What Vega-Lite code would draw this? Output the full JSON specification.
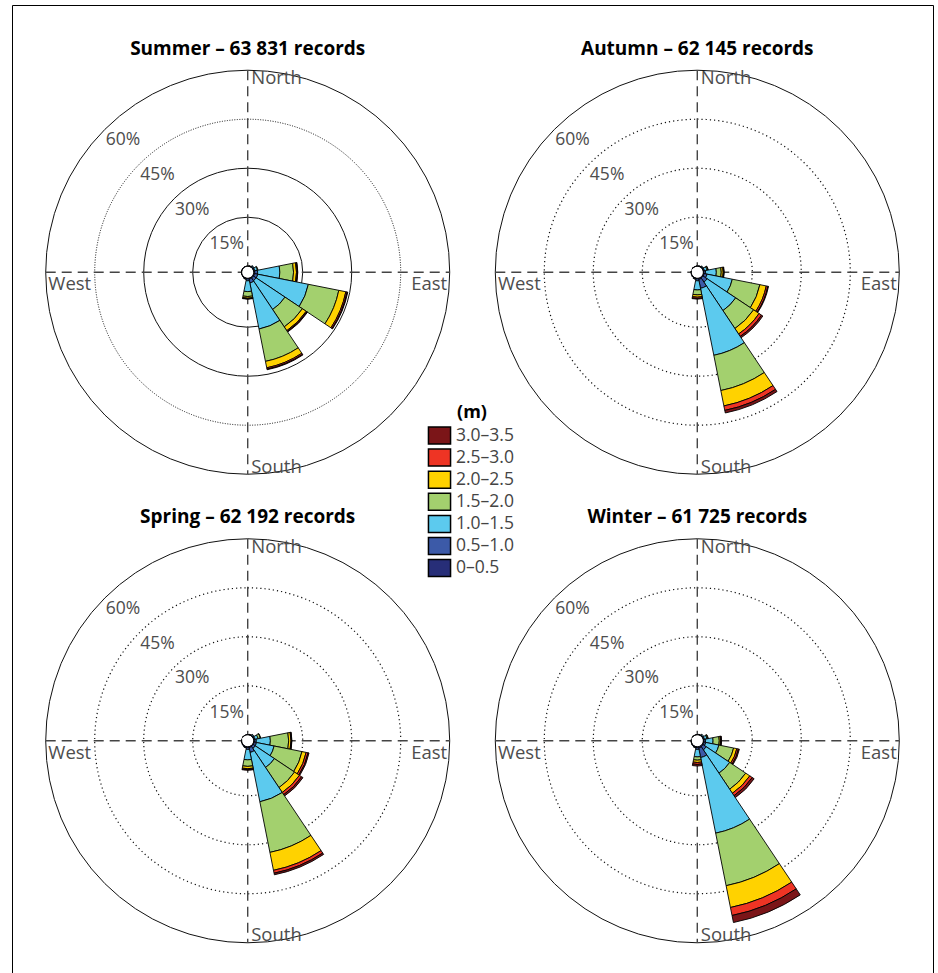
{
  "$schema": "https://vega.github.io/schema/vega-lite/v6.json",
  "width": 921,
  "height": 1003,
  "autosize": {"type": "none"},
  "padding": {"left": 12, "top": 5, "right": 5, "bottom": 0},
  "background": "white",
  "config": {
    "view": {"stroke": "#000", "strokeWidth": 1},
    "font": "Open Sans"
  },
  "datasets": {
    "panels": [
      {"season": "Summer", "title": "Summer – 63 831 records", "col": 1, "row": 1},
      {"season": "Autumn", "title": "Autumn – 62 145 records", "col": 2, "row": 1},
      {"season": "Spring", "title": "Spring – 62 192 records", "col": 1, "row": 2},
      {"season": "Winter", "title": "Winter – 61 725 records", "col": 2, "row": 2}
    ],
    "classes": [
      {"hs": "0–0.5", "k": 0},
      {"hs": "0.5–1.0", "k": 1},
      {"hs": "1.0–1.5", "k": 2},
      {"hs": "1.5–2.0", "k": 3},
      {"hs": "2.0–2.5", "k": 4},
      {"hs": "2.5–3.0", "k": 5},
      {"hs": "3.0–3.5", "k": 6}
    ],
    "rings": [
      {"season": "Summer", "ring": 15}, {"season": "Summer", "ring": 30}, {"season": "Summer", "ring": 45}, {"season": "Summer", "ring": 60},
      {"season": "Autumn", "ring": 15}, {"season": "Autumn", "ring": 30}, {"season": "Autumn", "ring": 45}, {"season": "Autumn", "ring": 60},
      {"season": "Spring", "ring": 15}, {"season": "Spring", "ring": 30}, {"season": "Spring", "ring": 45}, {"season": "Spring", "ring": 60},
      {"season": "Winter", "ring": 15}, {"season": "Winter", "ring": 30}, {"season": "Winter", "ring": 45}, {"season": "Winter", "ring": 60}
    ],
    "segs": [
      {"season": "Summer", "dir": "N", "hs": "0–0.5", "pct": 0.05},
      {"season": "Summer", "dir": "NNE", "hs": "0–0.5", "pct": 0.1},
      {"season": "Summer", "dir": "NNE", "hs": "0.5–1.0", "pct": 0.1},
      {"season": "Summer", "dir": "NE", "hs": "0–0.5", "pct": 0.1},
      {"season": "Summer", "dir": "NE", "hs": "0.5–1.0", "pct": 0.3},
      {"season": "Summer", "dir": "NE", "hs": "1.0–1.5", "pct": 0.2},
      {"season": "Summer", "dir": "ENE", "hs": "0–0.5", "pct": 0.1},
      {"season": "Summer", "dir": "ENE", "hs": "0.5–1.0", "pct": 0.3},
      {"season": "Summer", "dir": "ENE", "hs": "1.0–1.5", "pct": 0.8},
      {"season": "Summer", "dir": "ENE", "hs": "1.5–2.0", "pct": 0.2},
      {"season": "Summer", "dir": "E", "hs": "0–0.5", "pct": 0.3},
      {"season": "Summer", "dir": "E", "hs": "0.5–1.0", "pct": 0.9},
      {"season": "Summer", "dir": "E", "hs": "1.0–1.5", "pct": 6.8},
      {"season": "Summer", "dir": "E", "hs": "1.5–2.0", "pct": 4.2},
      {"season": "Summer", "dir": "E", "hs": "2.0–2.5", "pct": 0.9},
      {"season": "Summer", "dir": "E", "hs": "2.5–3.0", "pct": 0.3},
      {"season": "Summer", "dir": "E", "hs": "3.0–3.5", "pct": 0.1},
      {"season": "Summer", "dir": "ESE", "hs": "0–0.5", "pct": 0.3},
      {"season": "Summer", "dir": "ESE", "hs": "0.5–1.0", "pct": 1.0},
      {"season": "Summer", "dir": "ESE", "hs": "1.0–1.5", "pct": 15.8},
      {"season": "Summer", "dir": "ESE", "hs": "1.5–2.0", "pct": 9.5},
      {"season": "Summer", "dir": "ESE", "hs": "2.0–2.5", "pct": 2.2},
      {"season": "Summer", "dir": "ESE", "hs": "2.5–3.0", "pct": 0.4},
      {"season": "Summer", "dir": "ESE", "hs": "3.0–3.5", "pct": 0.2},
      {"season": "Summer", "dir": "SE", "hs": "0–0.5", "pct": 0.3},
      {"season": "Summer", "dir": "SE", "hs": "0.5–1.0", "pct": 1.0},
      {"season": "Summer", "dir": "SE", "hs": "1.0–1.5", "pct": 10.6},
      {"season": "Summer", "dir": "SE", "hs": "1.5–2.0", "pct": 6.4},
      {"season": "Summer", "dir": "SE", "hs": "2.0–2.5", "pct": 1.4},
      {"season": "Summer", "dir": "SE", "hs": "2.5–3.0", "pct": 0.3},
      {"season": "Summer", "dir": "SE", "hs": "3.0–3.5", "pct": 0.2},
      {"season": "Summer", "dir": "SSE", "hs": "0–0.5", "pct": 0.3},
      {"season": "Summer", "dir": "SSE", "hs": "0.5–1.0", "pct": 1.2},
      {"season": "Summer", "dir": "SSE", "hs": "1.0–1.5", "pct": 14.4},
      {"season": "Summer", "dir": "SSE", "hs": "1.5–2.0", "pct": 10.1},
      {"season": "Summer", "dir": "SSE", "hs": "2.0–2.5", "pct": 2.0},
      {"season": "Summer", "dir": "SSE", "hs": "2.5–3.0", "pct": 0.4},
      {"season": "Summer", "dir": "SSE", "hs": "3.0–3.5", "pct": 0.2},
      {"season": "Summer", "dir": "S", "hs": "0–0.5", "pct": 0.2},
      {"season": "Summer", "dir": "S", "hs": "0.5–1.0", "pct": 0.6},
      {"season": "Summer", "dir": "S", "hs": "1.0–1.5", "pct": 3.3},
      {"season": "Summer", "dir": "S", "hs": "1.5–2.0", "pct": 1.5},
      {"season": "Summer", "dir": "S", "hs": "2.0–2.5", "pct": 0.5},
      {"season": "Summer", "dir": "S", "hs": "2.5–3.0", "pct": 0.2},
      {"season": "Summer", "dir": "S", "hs": "3.0–3.5", "pct": 0.1},
      {"season": "Summer", "dir": "SSW", "hs": "0–0.5", "pct": 0.1},
      {"season": "Summer", "dir": "SSW", "hs": "0.5–1.0", "pct": 0.2},
      {"season": "Summer", "dir": "SSW", "hs": "1.0–1.5", "pct": 0.1},
      {"season": "Summer", "dir": "SW", "hs": "0–0.5", "pct": 0.1},
      {"season": "Summer", "dir": "SW", "hs": "0.5–1.0", "pct": 0.1},
      {"season": "Summer", "dir": "WSW", "hs": "0–0.5", "pct": 0.1},
      {"season": "Summer", "dir": "W", "hs": "0–0.5", "pct": 0.1},
      {"season": "Summer", "dir": "WNW", "hs": "0–0.5", "pct": 0.05},
      {"season": "Summer", "dir": "NW", "hs": "0–0.5", "pct": 0.05},
      {"season": "Summer", "dir": "NNW", "hs": "0–0.5", "pct": 0.05},

      {"season": "Autumn", "dir": "N", "hs": "0–0.5", "pct": 0.05},
      {"season": "Autumn", "dir": "NNE", "hs": "0–0.5", "pct": 0.1},
      {"season": "Autumn", "dir": "NNE", "hs": "0.5–1.0", "pct": 0.1},
      {"season": "Autumn", "dir": "NE", "hs": "0–0.5", "pct": 0.1},
      {"season": "Autumn", "dir": "NE", "hs": "0.5–1.0", "pct": 0.2},
      {"season": "Autumn", "dir": "NE", "hs": "1.0–1.5", "pct": 0.2},
      {"season": "Autumn", "dir": "ENE", "hs": "0–0.5", "pct": 0.1},
      {"season": "Autumn", "dir": "ENE", "hs": "0.5–1.0", "pct": 0.3},
      {"season": "Autumn", "dir": "ENE", "hs": "1.0–1.5", "pct": 0.8},
      {"season": "Autumn", "dir": "ENE", "hs": "1.5–2.0", "pct": 0.3},
      {"season": "Autumn", "dir": "ENE", "hs": "2.0–2.5", "pct": 0.1},
      {"season": "Autumn", "dir": "E", "hs": "0–0.5", "pct": 0.2},
      {"season": "Autumn", "dir": "E", "hs": "0.5–1.0", "pct": 0.5},
      {"season": "Autumn", "dir": "E", "hs": "1.0–1.5", "pct": 3.3},
      {"season": "Autumn", "dir": "E", "hs": "1.5–2.0", "pct": 1.5},
      {"season": "Autumn", "dir": "E", "hs": "2.0–2.5", "pct": 0.6},
      {"season": "Autumn", "dir": "E", "hs": "2.5–3.0", "pct": 0.2},
      {"season": "Autumn", "dir": "E", "hs": "3.0–3.5", "pct": 0.1},
      {"season": "Autumn", "dir": "ESE", "hs": "0–0.5", "pct": 0.3},
      {"season": "Autumn", "dir": "ESE", "hs": "0.5–1.0", "pct": 0.9},
      {"season": "Autumn", "dir": "ESE", "hs": "1.0–1.5", "pct": 7.9},
      {"season": "Autumn", "dir": "ESE", "hs": "1.5–2.0", "pct": 8.6},
      {"season": "Autumn", "dir": "ESE", "hs": "2.0–2.5", "pct": 2.0},
      {"season": "Autumn", "dir": "ESE", "hs": "2.5–3.0", "pct": 0.5},
      {"season": "Autumn", "dir": "ESE", "hs": "3.0–3.5", "pct": 0.2},
      {"season": "Autumn", "dir": "SE", "hs": "0–0.5", "pct": 0.3},
      {"season": "Autumn", "dir": "SE", "hs": "0.5–1.0", "pct": 1.5},
      {"season": "Autumn", "dir": "SE", "hs": "1.0–1.5", "pct": 10.5},
      {"season": "Autumn", "dir": "SE", "hs": "1.5–2.0", "pct": 6.6},
      {"season": "Autumn", "dir": "SE", "hs": "2.0–2.5", "pct": 2.0},
      {"season": "Autumn", "dir": "SE", "hs": "2.5–3.0", "pct": 0.9},
      {"season": "Autumn", "dir": "SE", "hs": "3.0–3.5", "pct": 0.5},
      {"season": "Autumn", "dir": "SSE", "hs": "0–0.5", "pct": 0.4},
      {"season": "Autumn", "dir": "SSE", "hs": "0.5–1.0", "pct": 2.8},
      {"season": "Autumn", "dir": "SSE", "hs": "1.0–1.5", "pct": 20.9},
      {"season": "Autumn", "dir": "SSE", "hs": "1.5–2.0", "pct": 11.0},
      {"season": "Autumn", "dir": "SSE", "hs": "2.0–2.5", "pct": 4.8},
      {"season": "Autumn", "dir": "SSE", "hs": "2.5–3.0", "pct": 1.4},
      {"season": "Autumn", "dir": "SSE", "hs": "3.0–3.5", "pct": 0.8},
      {"season": "Autumn", "dir": "S", "hs": "0–0.5", "pct": 0.2},
      {"season": "Autumn", "dir": "S", "hs": "0.5–1.0", "pct": 0.6},
      {"season": "Autumn", "dir": "S", "hs": "1.0–1.5", "pct": 2.8},
      {"season": "Autumn", "dir": "S", "hs": "1.5–2.0", "pct": 1.5},
      {"season": "Autumn", "dir": "S", "hs": "2.0–2.5", "pct": 0.7},
      {"season": "Autumn", "dir": "S", "hs": "2.5–3.0", "pct": 0.4},
      {"season": "Autumn", "dir": "S", "hs": "3.0–3.5", "pct": 0.2},
      {"season": "Autumn", "dir": "SSW", "hs": "0–0.5", "pct": 0.1},
      {"season": "Autumn", "dir": "SSW", "hs": "0.5–1.0", "pct": 0.2},
      {"season": "Autumn", "dir": "SSW", "hs": "1.0–1.5", "pct": 0.1},
      {"season": "Autumn", "dir": "SW", "hs": "0–0.5", "pct": 0.1},
      {"season": "Autumn", "dir": "SW", "hs": "0.5–1.0", "pct": 0.1},
      {"season": "Autumn", "dir": "WSW", "hs": "0–0.5", "pct": 0.1},
      {"season": "Autumn", "dir": "W", "hs": "0–0.5", "pct": 0.1},
      {"season": "Autumn", "dir": "NW", "hs": "0–0.5", "pct": 0.05},
      {"season": "Autumn", "dir": "NNW", "hs": "0–0.5", "pct": 0.05},

      {"season": "Spring", "dir": "N", "hs": "0–0.5", "pct": 0.05},
      {"season": "Spring", "dir": "NNE", "hs": "0–0.5", "pct": 0.1},
      {"season": "Spring", "dir": "NNE", "hs": "0.5–1.0", "pct": 0.1},
      {"season": "Spring", "dir": "NE", "hs": "0–0.5", "pct": 0.1},
      {"season": "Spring", "dir": "NE", "hs": "0.5–1.0", "pct": 0.2},
      {"season": "Spring", "dir": "NE", "hs": "1.0–1.5", "pct": 0.3},
      {"season": "Spring", "dir": "ENE", "hs": "0–0.5", "pct": 0.1},
      {"season": "Spring", "dir": "ENE", "hs": "0.5–1.0", "pct": 0.3},
      {"season": "Spring", "dir": "ENE", "hs": "1.0–1.5", "pct": 1.0},
      {"season": "Spring", "dir": "ENE", "hs": "1.5–2.0", "pct": 0.7},
      {"season": "Spring", "dir": "ENE", "hs": "2.0–2.5", "pct": 0.1},
      {"season": "Spring", "dir": "E", "hs": "0–0.5", "pct": 0.2},
      {"season": "Spring", "dir": "E", "hs": "0.5–1.0", "pct": 0.6},
      {"season": "Spring", "dir": "E", "hs": "1.0–1.5", "pct": 4.3},
      {"season": "Spring", "dir": "E", "hs": "1.5–2.0", "pct": 5.6},
      {"season": "Spring", "dir": "E", "hs": "2.0–2.5", "pct": 0.7},
      {"season": "Spring", "dir": "E", "hs": "2.5–3.0", "pct": 0.2},
      {"season": "Spring", "dir": "E", "hs": "3.0–3.5", "pct": 0.1},
      {"season": "Spring", "dir": "ESE", "hs": "0–0.5", "pct": 0.2},
      {"season": "Spring", "dir": "ESE", "hs": "0.5–1.0", "pct": 0.7},
      {"season": "Spring", "dir": "ESE", "hs": "1.0–1.5", "pct": 5.5},
      {"season": "Spring", "dir": "ESE", "hs": "1.5–2.0", "pct": 8.7},
      {"season": "Spring", "dir": "ESE", "hs": "2.0–2.5", "pct": 1.3},
      {"season": "Spring", "dir": "ESE", "hs": "2.5–3.0", "pct": 0.6},
      {"season": "Spring", "dir": "ESE", "hs": "3.0–3.5", "pct": 0.3},
      {"season": "Spring", "dir": "SE", "hs": "0–0.5", "pct": 0.2},
      {"season": "Spring", "dir": "SE", "hs": "0.5–1.0", "pct": 0.8},
      {"season": "Spring", "dir": "SE", "hs": "1.0–1.5", "pct": 7.0},
      {"season": "Spring", "dir": "SE", "hs": "1.5–2.0", "pct": 7.4},
      {"season": "Spring", "dir": "SE", "hs": "2.0–2.5", "pct": 1.8},
      {"season": "Spring", "dir": "SE", "hs": "2.5–3.0", "pct": 0.8},
      {"season": "Spring", "dir": "SE", "hs": "3.0–3.5", "pct": 0.5},
      {"season": "Spring", "dir": "SSE", "hs": "0–0.5", "pct": 0.3},
      {"season": "Spring", "dir": "SSE", "hs": "0.5–1.0", "pct": 1.5},
      {"season": "Spring", "dir": "SSE", "hs": "1.0–1.5", "pct": 15.4},
      {"season": "Spring", "dir": "SSE", "hs": "1.5–2.0", "pct": 15.8},
      {"season": "Spring", "dir": "SSE", "hs": "2.0–2.5", "pct": 5.6},
      {"season": "Spring", "dir": "SSE", "hs": "2.5–3.0", "pct": 0.9},
      {"season": "Spring", "dir": "SSE", "hs": "3.0–3.5", "pct": 0.5},
      {"season": "Spring", "dir": "S", "hs": "0–0.5", "pct": 0.2},
      {"season": "Spring", "dir": "S", "hs": "0.5–1.0", "pct": 0.6},
      {"season": "Spring", "dir": "S", "hs": "1.0–1.5", "pct": 3.2},
      {"season": "Spring", "dir": "S", "hs": "1.5–2.0", "pct": 2.0},
      {"season": "Spring", "dir": "S", "hs": "2.0–2.5", "pct": 0.7},
      {"season": "Spring", "dir": "S", "hs": "2.5–3.0", "pct": 0.3},
      {"season": "Spring", "dir": "S", "hs": "3.0–3.5", "pct": 0.2},
      {"season": "Spring", "dir": "SSW", "hs": "0–0.5", "pct": 0.1},
      {"season": "Spring", "dir": "SSW", "hs": "0.5–1.0", "pct": 0.2},
      {"season": "Spring", "dir": "SSW", "hs": "1.0–1.5", "pct": 0.1},
      {"season": "Spring", "dir": "SW", "hs": "0–0.5", "pct": 0.1},
      {"season": "Spring", "dir": "SW", "hs": "0.5–1.0", "pct": 0.1},
      {"season": "Spring", "dir": "WSW", "hs": "0–0.5", "pct": 0.1},
      {"season": "Spring", "dir": "W", "hs": "0–0.5", "pct": 0.1},
      {"season": "Spring", "dir": "NW", "hs": "0–0.5", "pct": 0.05},
      {"season": "Spring", "dir": "NNW", "hs": "0–0.5", "pct": 0.05},

      {"season": "Winter", "dir": "N", "hs": "0–0.5", "pct": 0.05},
      {"season": "Winter", "dir": "NNE", "hs": "0–0.5", "pct": 0.1},
      {"season": "Winter", "dir": "NNE", "hs": "0.5–1.0", "pct": 0.1},
      {"season": "Winter", "dir": "NE", "hs": "0–0.5", "pct": 0.1},
      {"season": "Winter", "dir": "NE", "hs": "0.5–1.0", "pct": 0.2},
      {"season": "Winter", "dir": "NE", "hs": "1.0–1.5", "pct": 0.3},
      {"season": "Winter", "dir": "ENE", "hs": "0–0.5", "pct": 0.1},
      {"season": "Winter", "dir": "ENE", "hs": "0.5–1.0", "pct": 0.3},
      {"season": "Winter", "dir": "ENE", "hs": "1.0–1.5", "pct": 0.8},
      {"season": "Winter", "dir": "ENE", "hs": "1.5–2.0", "pct": 0.3},
      {"season": "Winter", "dir": "ENE", "hs": "2.0–2.5", "pct": 0.1},
      {"season": "Winter", "dir": "E", "hs": "0–0.5", "pct": 0.2},
      {"season": "Winter", "dir": "E", "hs": "0.5–1.0", "pct": 0.5},
      {"season": "Winter", "dir": "E", "hs": "1.0–1.5", "pct": 2.3},
      {"season": "Winter", "dir": "E", "hs": "1.5–2.0", "pct": 1.9},
      {"season": "Winter", "dir": "E", "hs": "2.0–2.5", "pct": 0.4},
      {"season": "Winter", "dir": "E", "hs": "2.5–3.0", "pct": 0.2},
      {"season": "Winter", "dir": "E", "hs": "3.0–3.5", "pct": 0.1},
      {"season": "Winter", "dir": "ESE", "hs": "0–0.5", "pct": 0.2},
      {"season": "Winter", "dir": "ESE", "hs": "0.5–1.0", "pct": 0.6},
      {"season": "Winter", "dir": "ESE", "hs": "1.0–1.5", "pct": 4.1},
      {"season": "Winter", "dir": "ESE", "hs": "1.5–2.0", "pct": 4.6},
      {"season": "Winter", "dir": "ESE", "hs": "2.0–2.5", "pct": 1.0},
      {"season": "Winter", "dir": "ESE", "hs": "2.5–3.0", "pct": 0.5},
      {"season": "Winter", "dir": "ESE", "hs": "3.0–3.5", "pct": 0.3},
      {"season": "Winter", "dir": "SE", "hs": "0–0.5", "pct": 0.3},
      {"season": "Winter", "dir": "SE", "hs": "0.5–1.0", "pct": 1.2},
      {"season": "Winter", "dir": "SE", "hs": "1.0–1.5", "pct": 8.6},
      {"season": "Winter", "dir": "SE", "hs": "1.5–2.0", "pct": 5.9},
      {"season": "Winter", "dir": "SE", "hs": "2.0–2.5", "pct": 1.5},
      {"season": "Winter", "dir": "SE", "hs": "2.5–3.0", "pct": 0.9},
      {"season": "Winter", "dir": "SE", "hs": "3.0–3.5", "pct": 0.7},
      {"season": "Winter", "dir": "SSE", "hs": "0–0.5", "pct": 0.4},
      {"season": "Winter", "dir": "SSE", "hs": "0.5–1.0", "pct": 3.0},
      {"season": "Winter", "dir": "SSE", "hs": "1.0–1.5", "pct": 23.6},
      {"season": "Winter", "dir": "SSE", "hs": "1.5–2.0", "pct": 16.4},
      {"season": "Winter", "dir": "SSE", "hs": "2.0–2.5", "pct": 6.8},
      {"season": "Winter", "dir": "SSE", "hs": "2.5–3.0", "pct": 2.5},
      {"season": "Winter", "dir": "SSE", "hs": "3.0–3.5", "pct": 2.2},
      {"season": "Winter", "dir": "S", "hs": "0–0.5", "pct": 0.2},
      {"season": "Winter", "dir": "S", "hs": "0.5–1.0", "pct": 0.6},
      {"season": "Winter", "dir": "S", "hs": "1.0–1.5", "pct": 2.3},
      {"season": "Winter", "dir": "S", "hs": "1.5–2.0", "pct": 1.0},
      {"season": "Winter", "dir": "S", "hs": "2.0–2.5", "pct": 0.7},
      {"season": "Winter", "dir": "S", "hs": "2.5–3.0", "pct": 0.6},
      {"season": "Winter", "dir": "S", "hs": "3.0–3.5", "pct": 0.5},
      {"season": "Winter", "dir": "SSW", "hs": "0–0.5", "pct": 0.1},
      {"season": "Winter", "dir": "SSW", "hs": "0.5–1.0", "pct": 0.2},
      {"season": "Winter", "dir": "SSW", "hs": "1.0–1.5", "pct": 0.1},
      {"season": "Winter", "dir": "SW", "hs": "0–0.5", "pct": 0.1},
      {"season": "Winter", "dir": "SW", "hs": "0.5–1.0", "pct": 0.1},
      {"season": "Winter", "dir": "WSW", "hs": "0–0.5", "pct": 0.1},
      {"season": "Winter", "dir": "W", "hs": "0–0.5", "pct": 0.1},
      {"season": "Winter", "dir": "NW", "hs": "0–0.5", "pct": 0.05},
      {"season": "Winter", "dir": "NNW", "hs": "0–0.5", "pct": 0.05}
    ]
  },
  "layer": [
    {
      "description": "Solid rings: the 60% rim of every rose and the 15%/30% rings of the summer rose",
      "data": {"name": "rings"},
      "transform": [
        {"filter": "datum.ring === 60 || (datum.season === 'Summer' && datum.ring < 45)"},
        {"lookup": "season", "from": {"data": {"name": "panels"}, "key": "season", "fields": ["col", "row"]}}
      ],
      "mark": {"type": "arc", "filled": false, "stroke": "#111", "strokeWidth": 1, "theta": 0, "theta2": 6.2832},
      "encoding": {
        "x": {"field": "col", "type": "nominal", "scale": {"type": "point", "domain": [1, 2], "padding": 0.5243}, "axis": null},
        "y": {"field": "row", "type": "nominal", "scale": {"type": "point", "domain": [1, 2], "padding": 0.5703}, "axis": null},
        "radius": {"field": "ring", "type": "quantitative", "stack": null, "scale": {"type": "linear", "domain": [0, 60], "range": [6, 202]}},
        "radius2": {"datum": 0}
      }
    },
    {
      "description": "Dotted inner rings",
      "data": {"name": "rings"},
      "transform": [
        {"filter": "datum.ring < 60 && datum.season !== 'Summer'"},
        {"lookup": "season", "from": {"data": {"name": "panels"}, "key": "season", "fields": ["col", "row"]}}
      ],
      "mark": {"type": "arc", "filled": false, "stroke": "#111", "strokeWidth": 1.2, "strokeDash": [1.2, 3], "theta": 0, "theta2": 6.2832},
      "encoding": {
        "x": {"field": "col", "type": "nominal"},
        "y": {"field": "row", "type": "nominal"},
        "radius": {"field": "ring", "type": "quantitative", "stack": null},
        "radius2": {"datum": 0}
      }
    },
    {
      "description": "Finely dotted 45% ring of the summer rose",
      "data": {"name": "rings"},
      "transform": [
        {"filter": "datum.ring === 45 && datum.season === 'Summer'"},
        {"lookup": "season", "from": {"data": {"name": "panels"}, "key": "season", "fields": ["col", "row"]}}
      ],
      "mark": {"type": "arc", "filled": false, "stroke": "#111", "strokeWidth": 1, "strokeDash": [1, 1.5], "theta": 0, "theta2": 6.2832},
      "encoding": {
        "x": {"field": "col", "type": "nominal"},
        "y": {"field": "row", "type": "nominal"},
        "radius": {"field": "ring", "type": "quantitative", "stack": null},
        "radius2": {"datum": 0}
      }
    },
    {
      "description": "Dashed west-east line",
      "data": {"name": "panels"},
      "mark": {"type": "rule", "stroke": "#444", "strokeWidth": 1.4, "strokeDash": [10, 6], "xOffset": -202, "x2Offset": 202},
      "encoding": {
        "x": {"field": "col", "type": "nominal"},
        "x2": {"field": "col"},
        "y": {"field": "row", "type": "nominal"}
      }
    },
    {
      "description": "Dashed north-south line",
      "data": {"name": "panels"},
      "mark": {"type": "rule", "stroke": "#444", "strokeWidth": 1.4, "strokeDash": [10, 6], "yOffset": -202, "y2Offset": 202},
      "encoding": {
        "x": {"field": "col", "type": "nominal"},
        "y": {"field": "row", "type": "nominal"},
        "y2": {"field": "row"}
      }
    },
    {
      "description": "Empty hub at the centre of each rose",
      "data": {"name": "panels"},
      "mark": {"type": "arc", "fill": "white", "stroke": null, "theta": 0, "theta2": 6.2832},
      "encoding": {
        "x": {"field": "col", "type": "nominal"},
        "y": {"field": "row", "type": "nominal"},
        "radius": {"datum": 0, "type": "quantitative", "stack": null},
        "radius2": {"datum": -2}
      }
    },
    {
      "description": "Stacked wave-height sectors per direction",
      "data": {"name": "segs"},
      "transform": [
        {"lookup": "hs", "from": {"data": {"name": "classes"}, "key": "hs", "fields": ["k"]}},
        {"lookup": "season", "from": {"data": {"name": "panels"}, "key": "season", "fields": ["col", "row"]}},
        {"stack": "pct", "groupby": ["season", "dir"], "sort": [{"field": "k", "order": "ascending"}], "as": ["r0", "r1"]}
      ],
      "mark": {"type": "arc", "stroke": "#000", "strokeWidth": 0.9},
      "encoding": {
        "x": {"field": "col", "type": "nominal"},
        "y": {"field": "row", "type": "nominal"},
        "theta": {
          "field": "dir", "type": "nominal",
          "scale": {
            "type": "band",
            "domain": ["N", "NNE", "NE", "ENE", "E", "ESE", "SE", "SSE", "S", "SSW", "SW", "WSW", "W", "WNW", "NW", "NNW"],
            "range": [-0.19635, 6.08684],
            "paddingInner": 0,
            "paddingOuter": 0
          }
        },
        "radius": {"field": "r1", "type": "quantitative", "stack": null},
        "radius2": {"field": "r0"},
        "color": {
          "field": "hs", "type": "nominal",
          "scale": {
            "domain": ["3.0–3.5", "2.5–3.0", "2.0–2.5", "1.5–2.0", "1.0–1.5", "0.5–1.0", "0–0.5"],
            "range": ["#7b1518", "#ee3424", "#ffd200", "#a3d06e", "#5ccaee", "#3c5aa8", "#272e78"]
          },
          "legend": {
            "title": "(m)",
            "orient": "none",
            "legendX": 418,
            "legendY": 399,
            "padding": 0,
            "symbolType": "M-1.3,-1H1.3V1H-1.3Z",
            "symbolSize": 289,
            "symbolStrokeColor": "#000",
            "symbolStrokeWidth": 1.5,
            "symbolOpacity": 1,
            "labelFontSize": 17.5,
            "labelColor": "#444",
            "labelFont": "Open Sans",
            "labelOffset": 7,
            "rowPadding": -0.9,
            "titleFontSize": 18,
            "titleFontWeight": "bold",
            "titleColor": "#000",
            "titleFont": "Open Sans",
            "titleAnchor": "middle",
            "titlePadding": 4
          }
        }
      }
    },
    {
      "description": "Ring percentage labels on the north-west diagonal",
      "data": {"name": "rings"},
      "transform": [
        {"lookup": "season", "from": {"data": {"name": "panels"}, "key": "season", "fields": ["col", "row"]}},
        {"calculate": "datum.ring + '%'", "as": "label"}
      ],
      "mark": {"type": "text", "theta": 5.4978, "align": "center", "baseline": "middle", "dx": 18, "dy": 11, "fontSize": 17.5, "color": "#4d4d4d"},
      "encoding": {
        "x": {"field": "col", "type": "nominal"},
        "y": {"field": "row", "type": "nominal"},
        "radius": {"field": "ring", "type": "quantitative", "stack": null},
        "text": {"field": "label"}
      }
    },
    {
      "data": {"name": "panels"},
      "mark": {"type": "text", "text": "North", "align": "left", "baseline": "top", "dx": 3.5, "dy": -203, "fontSize": 18.5, "color": "#4d4d4d"},
      "encoding": {"x": {"field": "col", "type": "nominal"}, "y": {"field": "row", "type": "nominal"}}
    },
    {
      "data": {"name": "panels"},
      "mark": {"type": "text", "text": "South", "align": "left", "baseline": "alphabetic", "dx": 3.5, "dy": 200.5, "fontSize": 18.5, "color": "#4d4d4d"},
      "encoding": {"x": {"field": "col", "type": "nominal"}, "y": {"field": "row", "type": "nominal"}}
    },
    {
      "data": {"name": "panels"},
      "mark": {"type": "text", "text": "East", "align": "right", "baseline": "alphabetic", "dx": 199.5, "dy": 18, "fontSize": 18.5, "color": "#4d4d4d"},
      "encoding": {"x": {"field": "col", "type": "nominal"}, "y": {"field": "row", "type": "nominal"}}
    },
    {
      "data": {"name": "panels"},
      "mark": {"type": "text", "text": "West", "align": "left", "baseline": "alphabetic", "dx": -199.4, "dy": 18, "fontSize": 18.5, "color": "#4d4d4d"},
      "encoding": {"x": {"field": "col", "type": "nominal"}, "y": {"field": "row", "type": "nominal"}}
    },
    {
      "description": "Rose titles",
      "data": {"name": "panels"},
      "mark": {"type": "text", "align": "center", "baseline": "alphabetic", "dy": -217.3, "fontSize": 19, "fontWeight": "bold", "color": "#000"},
      "encoding": {
        "x": {"field": "col", "type": "nominal"},
        "y": {"field": "row", "type": "nominal"},
        "text": {"field": "title"}
      }
    }
  ]
}
